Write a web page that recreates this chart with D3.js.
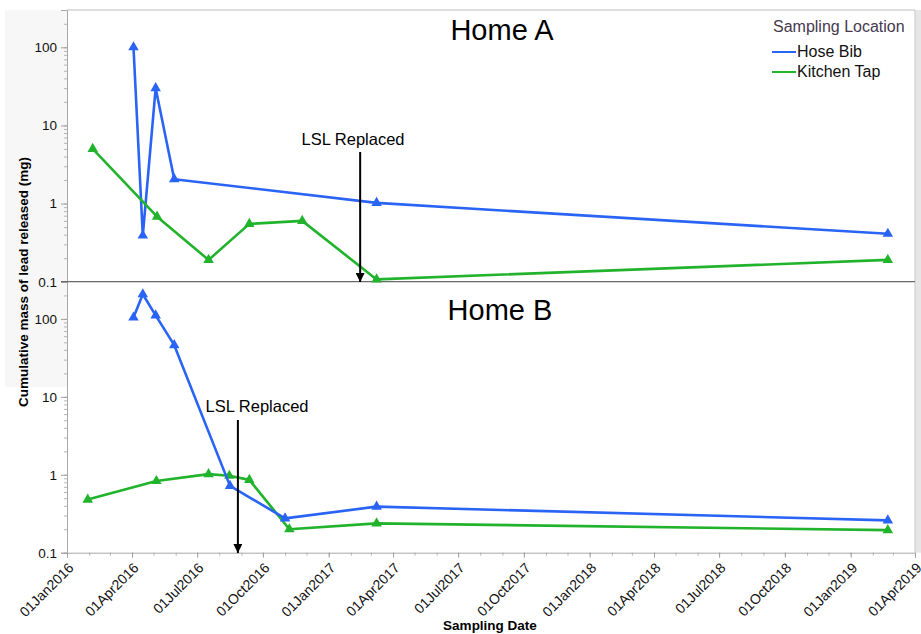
<!DOCTYPE html>
<html>
<head>
<meta charset="utf-8">
<script src="https://cdn.jsdelivr.net/npm/d3@7"></script>
<style>
  body { margin: 0; background: #fff; }
  text { font-family: Arial, "Liberation Sans", sans-serif; }
</style>
</head>
<body>
<script>
// ---- data ----
var homeA_hoseDates = ["2016-04-03", "2016-04-16", "2016-05-04", "2016-05-30", "2017-03-09", "2019-02-22"];
var homeA_hoseVals  = [100, 0.39, 30, 2.05, 1.02, 0.41];
var homeA_tapDates  = ["2016-02-06", "2016-05-06", "2016-07-17", "2016-09-12", "2016-11-25", "2017-03-09", "2019-02-22"];
var homeA_tapVals   = [5.0, 0.68, 0.19, 0.55, 0.6, 0.107, 0.19];

var homeB_hoseDates = ["2016-04-03", "2016-04-16", "2016-05-04", "2016-05-30", "2016-08-16", "2016-11-01", "2017-03-09", "2019-02-22"];
var homeB_hoseVals  = [104, 207, 111, 46, 0.72, 0.276, 0.39, 0.26];
var homeB_tapDates  = ["2016-01-30", "2016-05-05", "2016-07-17", "2016-08-15", "2016-09-12", "2016-11-07", "2017-03-09", "2019-02-22"];
var homeB_tapVals   = [0.48, 0.83, 1.02, 0.97, 0.86, 0.2, 0.238, 0.195];

var lslDates = ["2017-02-14", "2016-08-27"];  // Home A, Home B
var yTickVals = [0.1, 1, 10, 100];
var xTickDates = ["2016-01-01", "2016-04-01", "2016-07-01", "2016-10-01", "2017-01-01", "2017-04-01", "2017-07-01",
                  "2017-10-01", "2018-01-01", "2018-04-01", "2018-07-01", "2018-10-01", "2019-01-01", "2019-04-01"];
var seriesNames = ["Hose Bib", "Kitchen Tap"];
var seriesColors = ["#2a64f5", "#21b32b"];

var W = 921, H = 634;
var left = 67, right = 915, plotTop = 10, mid = 281.7, bottom = 552.7;
var parse = d3.timeParse("%Y-%m-%d");
var fmt = d3.timeFormat("%d%b%Y");

var svg = d3.select("body").append("svg")
    .attr("width", W)
    .attr("height", H);

// grey bits around the frame
svg.append("rect").attr("x", 5).attr("y", plotTop).attr("width", left - 5).attr("height", 377).attr("fill", "#f7f7f7");
svg.append("rect").attr("x", right).attr("y", plotTop).attr("width", W - right).attr("height", bottom - plotTop).attr("fill", "#e6e6e6");

var x = d3.scaleTime()
    .domain([parse("2016-01-01"), parse("2019-04-01")])
    .range([left, right]);

var yA = d3.scaleLog().domain([0.1, 300]).range([mid, plotTop]);
var yB = d3.scaleLog().domain([0.1, 300]).range([bottom, mid]);

function drawY(y) {
  // minor ticks
  svg.append("g")
      .attr("transform", "translate(" + left + ",0)")
      .call(d3.axisLeft(y).tickValues(y.ticks()).tickSize(3).tickFormat(""))
      .call(function(g) { g.select(".domain").remove(); g.selectAll("line").attr("stroke", "#b5b5b5"); });
  // major ticks with labels
  svg.append("g")
      .attr("transform", "translate(" + left + ",0)")
      .call(d3.axisLeft(y).tickValues(yTickVals).tickSize(6).tickPadding(4).tickFormat(function(d) { return d + ""; }))
      .call(function(g) {
        g.select(".domain").attr("stroke", "#a8a8a8");
        g.selectAll("line").attr("stroke", "#a0a0a0");
        g.selectAll("text").attr("font-size", 13.5).attr("fill", "#111").attr("font-family", "Arial, 'Liberation Sans', sans-serif");
      });
}
drawY(yA);
drawY(yB);

// frame lines
svg.append("line").attr("x1", left).attr("x2", right).attr("y1", plotTop).attr("y2", plotTop).attr("stroke", "#bdbdbd");
svg.append("line").attr("x1", right).attr("x2", right).attr("y1", plotTop).attr("y2", bottom).attr("stroke", "#c8c8c8");
svg.append("line").attr("x1", left - 6).attr("x2", right).attr("y1", mid).attr("y2", mid).attr("stroke", "#6a6a6a").attr("stroke-width", 1.3);

// x axis: monthly minor ticks, quarterly labels
svg.append("g")
    .attr("transform", "translate(0," + bottom + ")")
    .call(d3.axisBottom(x).ticks(d3.timeMonth.every(1)).tickSize(3).tickFormat(""))
    .call(function(g) { g.select(".domain").remove(); g.selectAll("line").attr("stroke", "#b5b5b5"); });

var xAxis = svg.append("g")
    .attr("transform", "translate(0," + bottom + ")")
    .call(d3.axisBottom(x).tickValues(xTickDates.map(parse)).tickSize(5).tickFormat(fmt));
xAxis.select(".domain").attr("stroke", "#a8a8a8");
xAxis.selectAll("line").attr("stroke", "#a0a0a0");
xAxis.selectAll("text")
    .attr("font-size", 14)
    .attr("fill", "#111")
    .attr("font-family", "Arial, 'Liberation Sans', sans-serif")
    .attr("text-anchor", "end")
    .attr("dy", null)
    .attr("y", 0)
    .attr("transform", "translate(7,16) rotate(-45)");

// lines + triangle markers
var line = function(y) {
  return d3.line()
    .x(function(d) { return x(d.date); })
    .y(function(d) { return y(d.val); });
};
var tri = d3.symbol().type(d3.symbolTriangle).size(48);

function drawSeries(dates, vals, y, color) {
  var pts = dates.map(function(d, i) { return {date: parse(d), val: vals[i]}; });
  svg.append("path")
      .datum(pts)
      .attr("fill", "none")
      .attr("stroke", color)
      .attr("stroke-width", 2.6)
      .attr("stroke-linejoin", "round")
      .attr("d", line(y));
  svg.append("g").selectAll("path")
      .data(pts)
      .enter().append("path")
      .attr("d", tri)
      .attr("fill", color)
      .attr("transform", function(d) { return "translate(" + x(d.date) + "," + y(d.val) + ")"; });
}
drawSeries(homeA_hoseDates, homeA_hoseVals, yA, seriesColors[0]);
drawSeries(homeA_tapDates, homeA_tapVals, yA, seriesColors[1]);
drawSeries(homeB_tapDates, homeB_tapVals, yB, seriesColors[1]);
drawSeries(homeB_hoseDates, homeB_hoseVals, yB, seriesColors[0]);

// panel titles
svg.append("text").attr("x", 502).attr("y", 40).attr("text-anchor", "middle").attr("font-size", 29).text("Home A");
svg.append("text").attr("x", 500).attr("y", 320).attr("text-anchor", "middle").attr("font-size", 29).text("Home B");

// LSL replaced arrows
svg.append("defs").append("marker")
    .attr("id", "arrow")
    .attr("viewBox", "0 0 10 10")
    .attr("refX", 10).attr("refY", 5)
    .attr("markerWidth", 4.5).attr("markerHeight", 4.5)
    .attr("markerUnits", "strokeWidth")
    .attr("orient", "auto")
    .append("path").attr("d", "M0,0L10,5L0,10Z").attr("fill", "#000");

var arrows = [
  {date: parse(lslDates[0]), y1: 152, y2: 282, tx: 353, ty: 145},
  {date: parse(lslDates[1]), y1: 420, y2: 553, tx: 257, ty: 412}
];
arrows.forEach(function(a) {
  svg.append("line")
      .attr("x1", x(a.date)).attr("x2", x(a.date))
      .attr("y1", a.y1).attr("y2", a.y2)
      .attr("stroke", "#000").attr("stroke-width", 2)
      .attr("marker-end", "url(#arrow)");
  svg.append("text").attr("x", a.tx).attr("y", a.ty).attr("text-anchor", "middle")
      .attr("font-size", 16.5).text("LSL Replaced");
});

// legend
var lg = svg.append("g").attr("transform", "translate(772,0)");
lg.append("text").attr("x", 1).attr("y", 32).attr("font-size", 16).attr("fill", "#46394f").text("Sampling Location");
seriesNames.forEach(function(n, i) {
  lg.append("line").attr("x1", 0).attr("x2", 24).attr("y1", 52 + i * 20).attr("y2", 52 + i * 20)
      .attr("stroke", seriesColors[i]).attr("stroke-width", 2);
  lg.append("text").attr("x", 25).attr("y", 57 + i * 20).attr("font-size", 16).attr("fill", "#111").text(n);
});

// axis titles
svg.append("text")
    .attr("transform", "translate(28,282) rotate(-90)")
    .attr("text-anchor", "middle")
    .attr("font-size", 13.5).attr("font-weight", "bold")
    .text("Cumulative mass of lead released (mg)");
svg.append("text")
    .attr("x", 490).attr("y", 630)
    .attr("text-anchor", "middle")
    .attr("font-size", 13.5).attr("font-weight", "bold")
    .text("Sampling Date");
</script>
</body>
</html>
